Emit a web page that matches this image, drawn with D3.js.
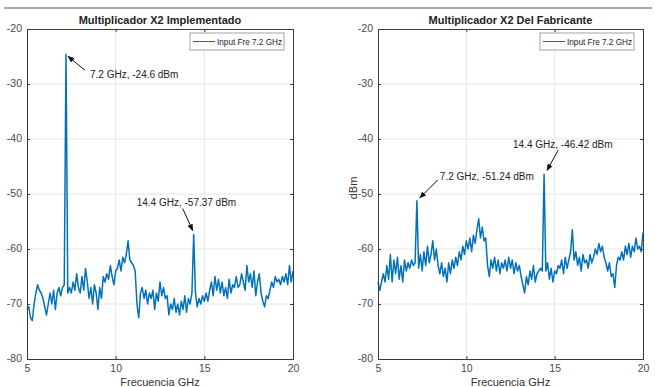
<!DOCTYPE html>
<html>
<head>
<meta charset="utf-8">
<script src="https://cdn.jsdelivr.net/npm/d3@7"></script>
<style>
  html, body { margin: 0; padding: 0; background: #fff; }
  svg { display: block; font-family: "Liberation Sans", Arial, sans-serif; }
</style>
</head>
<body>
<svg id="chart" width="655" height="387"></svg>
<script>
// frequency grid: 5.0 .. 20.0 GHz, step 0.1
const freqStart = 5, freqStep = 0.1;

// measured spectrum, implemented doubler (dBm)
const implementado = [
  -71, -70.5, -72.5, -73, -70, -68, -66.5, -67.5, -68, -69,
  -70.5, -72, -70, -68, -70, -67.5, -71, -68, -67, -68.5,
  -67, -66.5, -24.6, -68, -67, -68, -66, -67.5, -64.5, -67,
  -68, -65, -67.5, -63.5, -66, -69, -67, -70, -66.5, -68,
  -71, -67, -69, -65, -66, -64.5, -65.5, -63, -65, -66.5,
  -64, -63.5, -62, -64, -61.5, -62.5, -61, -58.5, -62, -62.5,
  -63, -64, -70, -72.5, -68, -67, -69, -67.5, -70, -68,
  -69, -67.5, -71, -68, -69.5, -66, -68.5, -67, -69, -68.5,
  -72, -70, -71, -69, -71.5, -70, -72, -69.5, -71, -68.5,
  -71.5, -69, -70, -68, -57.37, -68, -70.5, -69, -70, -68.5,
  -69.5, -68, -69.5, -67.5, -66, -68.5, -65, -67.5, -65.5, -68,
  -66, -68.5, -67, -69, -65.5, -68, -66.5, -67, -65, -67,
  -66.5, -64.5, -66, -67.5, -63, -66, -64.5, -67, -64, -68.5,
  -66, -64.5, -68, -69.5, -70.5, -68.5, -69, -67.5, -66, -67,
  -65, -66, -65.5, -66.5, -65, -66, -64.5, -66.5, -63, -66,
  -64
];

// measured spectrum, manufacturer doubler (dBm)
const fabricante = [
  -66, -67.5, -66, -64.5, -66, -63, -65.5, -61, -66, -62,
  -64.5, -61.5, -65.5, -63, -66, -62, -64, -62.5, -63.5, -62,
  -63, -62.5, -51.24, -63.5, -61, -64, -60.5, -63, -59.5, -62.5,
  -61, -58.5, -62, -60, -63, -64.5, -62.5, -65, -63.5, -66,
  -62.5, -64.5, -62, -63.5, -61.5, -63, -60.5, -62, -59.5, -61,
  -58.5, -60, -58, -60.5, -57.5, -59, -56.5, -54.5, -58, -56,
  -58.5, -58, -63, -65, -62, -63.5, -61.5, -64, -62, -64.5,
  -62.5, -63.5, -62, -64, -61.5, -63.5, -62, -64.5, -62.5, -64,
  -63, -65, -66.5, -68, -65, -66.5, -64, -65.5, -63, -66,
  -64.5, -64, -63.5, -64, -46.42, -64, -62.5, -65.5, -63.5, -66,
  -64, -64.5, -63, -63.5, -62, -64.5, -61.5, -63.5, -62, -60.5,
  -56.5, -62, -60.5, -63, -61.5, -64, -61, -62.5, -62, -63.5,
  -61, -62.5, -61.5, -60, -61, -59, -60.5, -59.5, -61.5, -62.5,
  -64, -62.5, -65, -64.5, -67, -63, -61.5, -62, -60.5, -62,
  -59.5, -61, -59, -61.5, -59.5, -60.5, -58, -60, -59.5, -60.5,
  -57
];

const xTicks = [5, 10, 15, 20];
const yTicks = [-80, -70, -60, -50, -40, -30, -20];
const titles = ["Multiplicador X2 Implementado", "Multiplicador X2 Del Fabricante"];
const legendLabel = "Input Fre 7.2 GHz";
const xLabel = "Frecuencia GHz";
const yLabel = "dBm";

// peak annotations: [freq, dBm, text]
const notesImpl = [[7.2, -24.6, "7.2 GHz, -24.6 dBm"], [14.4, -57.37, "14.4 GHz, -57.37 dBm"]];
const notesFab = [[14.4, -46.42, "14.4 GHz, -46.42 dBm"], [7.2, -51.24, "7.2 GHz, -51.24 dBm"]];

const svg = d3.select("#chart");
const lineColor = "#0072BD";

// top separator
svg.append("line").attr("x1", 4).attr("x2", 652).attr("y1", 8).attr("y2", 8)
  .attr("stroke", "#a8a8a8").attr("stroke-width", 2);

const defs = svg.append("defs");
defs.append("marker").attr("id", "ah").attr("viewBox", "0 0 10 10")
  .attr("refX", 9).attr("refY", 5).attr("markerWidth", 7).attr("markerHeight", 7)
  .attr("orient", "auto-start-reverse")
  .append("path").attr("d", "M0,1 L10,5 L0,9 z").attr("fill", "#111");

// arrow tail offset (dx, dy from peak) and text anchor offset, per panel
const panels = [
  { x0: 27, x1: 293, data: implementado, title: titles[0], notes: notesImpl, ylab: false,
    arrows: [{ tail: [19, 16], head: [2, 2], text: [24, 24] }, { tail: [-11, -26], head: [-1, -4], text: [-57, -29] }] },
  { x0: 378, x1: 643, data: fabricante, title: titles[1], notes: notesFab, ylab: true,
    arrows: [{ tail: [14, -24], head: [3, -4], text: [-31, -26] }, { tail: [21, -21], head: [3, -3], text: [23, -21] }] }
];

const yTop = 29, yBot = 359;
const fmt = d => String(d);

panels.forEach(p => {
  const x = d3.scaleLinear().domain([5, 20]).range([p.x0, p.x1]);
  const y = d3.scaleLinear().domain([-80, -20]).range([yBot, yTop]);
  const g = svg.append("g");

  // grid
  g.append("g").selectAll("line").data(xTicks.slice(1, -1)).join("line")
    .attr("x1", d => x(d)).attr("x2", d => x(d)).attr("y1", yTop).attr("y2", yBot)
    .attr("stroke", "#e6e6e6").attr("stroke-width", 1);
  g.append("g").selectAll("line").data(yTicks.slice(1, -1)).join("line")
    .attr("x1", p.x0).attr("x2", p.x1).attr("y1", d => y(d)).attr("y2", d => y(d))
    .attr("stroke", "#e6e6e6").attr("stroke-width", 1);

  // trace
  const line = d3.line().x((d, i) => x(freqStart + i * freqStep)).y(d => y(d));
  g.append("path").datum(p.data).attr("d", line).attr("fill", "none")
    .attr("stroke", lineColor).attr("stroke-width", 1.5).attr("stroke-linejoin", "round");

  // axes (MATLAB-like, ticks inward)
  const ax = g.append("g").attr("transform", `translate(0,${yBot})`)
    .call(d3.axisBottom(x).tickValues(xTicks).tickFormat(fmt).tickSize(-3).tickPadding(6));
  const ay = g.append("g").attr("transform", `translate(${p.x0},0)`)
    .call(d3.axisLeft(y).tickValues(yTicks).tickFormat(fmt).tickSize(-3).tickPadding(5));
  g.append("g").attr("transform", `translate(0,${yTop})`)
    .call(d3.axisTop(x).tickValues(xTicks).tickSize(-3).tickFormat(""));
  g.append("g").attr("transform", `translate(${p.x1},0)`)
    .call(d3.axisRight(y).tickValues(yTicks).tickSize(-3).tickFormat(""));
  g.selectAll(".domain").attr("stroke", "#3a3a3a").attr("stroke-width", 1);
  g.selectAll(".tick line").attr("stroke", "#3a3a3a");
  [ax, ay].forEach(a => a.selectAll("text").attr("font-size", 10.5).attr("fill", "#4a4a4a")
    .attr("font-family", "Liberation Sans, Arial, sans-serif"));
  ay.selectAll("text").attr("dy", "0.2em");

  // title
  const cx = (p.x0 + p.x1) / 2;
  g.append("text").attr("x", cx).attr("y", 24).attr("text-anchor", "middle")
    .attr("font-size", 11).attr("font-weight", "bold").attr("fill", "#222").text(p.title);

  // x label
  g.append("text").attr("x", cx).attr("y", 386).attr("text-anchor", "middle")
    .attr("font-size", 11).attr("fill", "#333").text(xLabel);

  if (p.ylab) {
    g.append("text").attr("transform", `translate(${p.x0 - 21},${(yTop + yBot) / 2 - 6}) rotate(-90)`)
      .attr("text-anchor", "middle").attr("font-size", 11).attr("fill", "#333").text(yLabel);
  }

  // legend
  const lw = 94, lh = 17, lx = p.x1 - 9 - lw, ly = yTop + 4;
  g.append("rect").attr("x", lx).attr("y", ly).attr("width", lw).attr("height", lh)
    .attr("fill", "#fff").attr("stroke", "#8c8c8c").attr("stroke-width", 0.8);
  g.append("line").attr("x1", lx + 3).attr("x2", lx + 25).attr("y1", ly + lh / 2).attr("y2", ly + lh / 2)
    .attr("stroke", lineColor).attr("stroke-width", 1);
  g.append("text").attr("x", lx + 27).attr("y", ly + lh / 2 + 3).attr("font-size", 8.2)
    .attr("fill", "#222").text(legendLabel);

  // annotations
  p.notes.forEach((n, i) => {
    const a = p.arrows[i];
    const px = x(n[0]), py = y(n[1]);
    g.append("line").attr("x1", px + a.tail[0]).attr("y1", py + a.tail[1])
      .attr("x2", px + a.head[0]).attr("y2", py + a.head[1])
      .attr("stroke", "#111").attr("stroke-width", 1).attr("marker-end", "url(#ah)");
    g.append("text").attr("x", px + a.text[0]).attr("y", py + a.text[1])
      .attr("font-size", 10).attr("fill", "#222").text(n[2]);
  });
});
</script>
</body>
</html>
